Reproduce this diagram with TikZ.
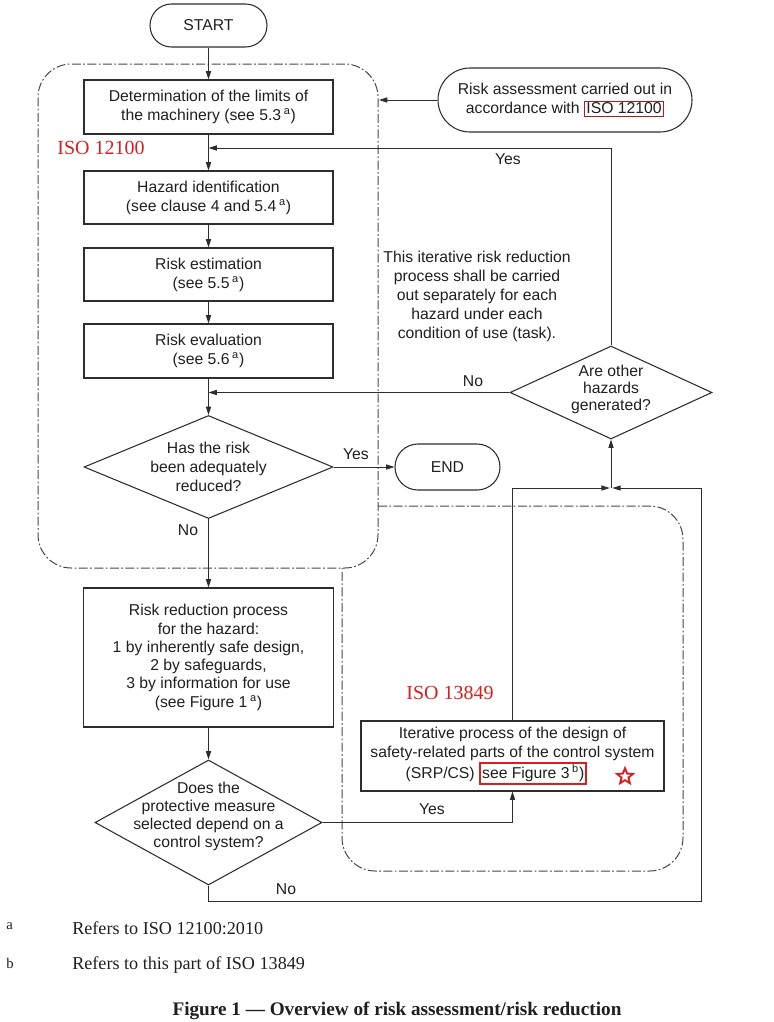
\documentclass[tikz,border=0pt]{standalone}
\usepackage{fontspec}
\setmainfont{Liberation Sans}
\newfontfamily\tnr{Liberation Serif}
\usetikzlibrary{shapes.geometric,arrows.meta}
\definecolor{isored}{RGB}{214,32,32}
\definecolor{lncol}{RGB}{45,45,45}
\begin{document}
\begin{tikzpicture}[x=0.75pt,y=-0.75pt,
  every node/.style={font=\fontsize{11.8}{14.25}\selectfont, text=black!88},
  box/.style={draw=lncol, line width=0.8pt, rectangle, align=center, inner sep=0pt},
  term/.style={box},
  dia/.style={draw=lncol, line width=0.8pt, diamond, inner sep=0pt},
  txt/.style={align=center, inner sep=0pt},
  arr/.style={draw=lncol, line width=0.75pt, -{Triangle[length=6.2pt,width=3.8pt]}},
  dashdot/.style={draw=black!72, line width=0.75pt, dash pattern=on 6.75pt off 1.8pt on 1.3pt off 1.8pt},
  lab/.style={inner sep=0pt},
  redlab/.style={inner sep=0pt, text=isored, font=\tnr\fontsize{15}{18}\selectfont},
  foot/.style={inner sep=0pt, anchor=west, font=\tnr\fontsize{13.6}{16}\selectfont},
  footkey/.style={inner sep=0pt, anchor=west, font=\tnr\fontsize{11}{13}\selectfont}
]
\useasboundingbox (0,0) rectangle (774,1022);

% regions
\draw[dashdot, rounded corners=25pt] (38,64) rectangle (378,568);
\draw[dashdot, rounded corners=25pt] (378,506) -- (683,506) -- (683,871) -- (342,871) -- (342,568);

% nodes
\node[term, rounded corners=16.1pt, minimum width=87.75pt, minimum height=32.25pt] (start) at (208.5,25.5) {START};
\node[box, minimum width=186.75pt, minimum height=40.5pt] (b1) at (208.5,107) {Determination of the limits of\\the machinery (see 5.3\,\textsuperscript{a})};
\node[box, minimum width=186.75pt, minimum height=39.75pt] (b2) at (208.5,197.5) {Hazard identification\\(see clause 4 and 5.4\,\textsuperscript{a})};
\node[box, minimum width=186.75pt, minimum height=39.75pt] (b3) at (208.5,274.5) {Risk estimation\\(see 5.5\,\textsuperscript{a})};
\node[box, minimum width=186.75pt, minimum height=40.5pt] (b4) at (208.5,351) {Risk evaluation\\(see 5.6\,\textsuperscript{a})};

\node[dia, minimum width=186.75pt, minimum height=77.25pt] (d1) at (208.5,467) {};
\node[txt] (d1t) at (d1) {Has the risk\\been adequately\\reduced?};

\node[term, rounded corners=17.2pt, minimum width=78.75pt, minimum height=34.5pt] (end) at (447.5,467) {END};

\node[term, rounded corners=24pt, minimum width=190.5pt, minimum height=48pt] (ra) at (565,100)
  {\raisebox{0pt}[\height][\depth]{}Risk assessment carried out in\\accordance with {\setlength\fboxsep{1.2pt}\setlength\fboxrule{0.6pt}\fcolorbox{isored!85!black}{white}{ISO 12100}}};

\node[dia, minimum width=151.5pt, minimum height=69.75pt] (d2) at (611,392.5) {};
\node[txt, font=\fontsize{11.8}{12.9}\selectfont] (d2t) at (611,389.5) {Are other\\hazards\\generated?};

\node[txt] (note) at (477,296) {This iterative risk reduction\\process shall be carried\\out separately for each\\hazard under each\\condition of use (task).};

\node[box, minimum width=187.5pt, minimum height=104.25pt, font=\fontsize{11.8}{13.7}\selectfont] (rrp) at (208.5,657.5)
  {Risk reduction process\\for the hazard:\\1 by inherently safe design,\\2 by safeguards,\\3 by information for use\\(see Figure 1\,\textsuperscript{a})};

\node[dia, minimum width=170.25pt, minimum height=93.75pt] (d3) at (208.5,822.5) {};
\node[txt, font=\fontsize{11.8}{13.6}\selectfont] (d3t) at (208.5,816.5) {Does the\\protective measure\\selected depend on a\\control system?};

\node[box, minimum width=227.25pt, minimum height=52.5pt] (iter) at (512.5,756)
  {Iterative process of the design of\\safety-related parts of the control system\\(SRP/CS) {\setlength\fboxsep{0.8pt}\setlength\fboxrule{1.5pt}\fcolorbox{isored}{white}{see Figure 3\,\textsuperscript{b})}}\hspace{24pt}\mbox{}};

\node[star, star points=5, star point ratio=2.3, draw=isored, line width=1.4pt, minimum size=12.5pt, inner sep=0pt] (star) at (625,776.5) {};

% red labels
\node[redlab] (iso1) at (101,148) {ISO 12100};
\node[redlab] (iso2) at (450,693) {ISO 13849};

% coordinates
\coordinate (j1) at (208.5,148);
\coordinate (j2) at (208.5,392.5);
\coordinate (jn) at (611,488);
\coordinate (rb) at (701,901);
\coordinate (bd) at (379,100);

% connectors
\draw[arr] (start) -- (b1);
\draw[arr] (b1) -- (b2);
\draw[arr] (b2) -- (b3);
\draw[arr] (b3) -- (b4);
\draw[arr] (b4) -- (d1);
\draw[arr] (d1) -- (end);
\draw[arr] (d1) -- (rrp);
\draw[arr] (rrp) -- (d3);
\draw[arr] (d3.east) -| (iter.south);
\draw[arr, shorten >=1pt] (iter.north) |- (jn);
\draw[arr, shorten >=1pt] (d3.south) |- (rb) |- (jn);
\draw[arr] (jn) -- (d2.south);
\draw[arr] (d2.west) -- (j2);
\draw[arr] (d2.north) |- (j1);
\draw[arr] (ra.west) -- (bd);

% connector labels
\node[lab] (l1) at (508,159) {Yes};
\node[lab] (l2) at (473,381) {No};
\node[lab] (l3) at (356,454) {Yes};
\node[lab] (l4) at (188,530) {No};
\node[lab] (l5) at (432,809) {Yes};
\node[lab] (l6) at (286,889) {No};

% footnotes
\node[footkey] (fa) at (6,926) {a};
\node[foot] (fat) at (72,928) {Refers to ISO 12100:2010};
\node[footkey] (fb) at (6,963) {b};
\node[foot] (fbt) at (72,965) {Refers to this part of ISO 13849};
\node[inner sep=0pt, font=\tnr\bfseries\fontsize{14.4}{17}\selectfont] (cap) at (397,1011) {Figure 1 — Overview of risk assessment/risk reduction};
\end{tikzpicture}
\end{document}
